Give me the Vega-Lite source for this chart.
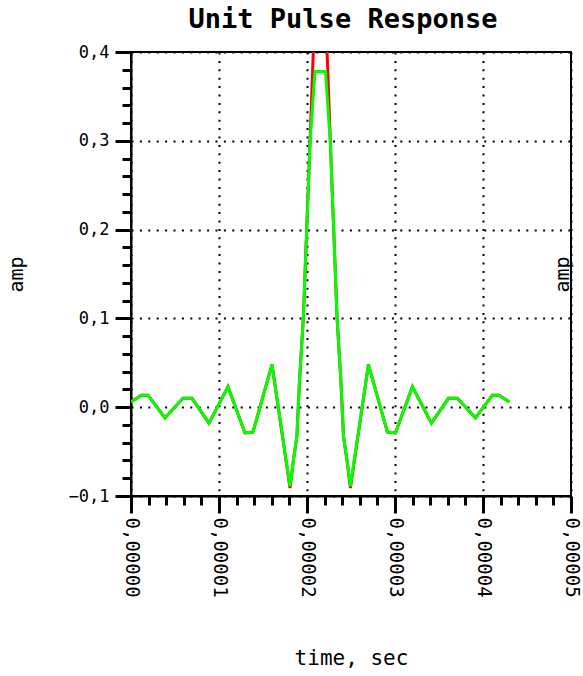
{
  "$schema": "https://vega.github.io/schema/vega-lite/v6.json",
  "autosize": {"type": "none"},
  "width": 440,
  "height": 444,
  "padding": {"left": 131, "top": 52, "right": 12, "bottom": 180},
  "background": "white",
  "config": {
    "view": {"stroke": "black", "strokeWidth": 2},
    "font": "DejaVu Sans Mono",
    "axis": {"labelFont": "DejaVu Sans Mono", "titleFont": "DejaVu Sans Mono", "labelColor": "black", "titleColor": "black", "domainColor": "black", "tickColor": "black", "titleFontWeight": "normal"}
  },
  "title": {"text": "Unit Pulse Response", "font": "DejaVu Sans Mono", "fontSize": 27, "fontWeight": "bold", "color": "black", "offset": 9, "dx": -8},
  "datasets": {
    "pulse": [
      {"t": 0, "amp": 0.006, "series": "red"},
      {"t": 0.00000119, "amp": 0.0135, "series": "red"},
      {"t": 0.00000193, "amp": 0.0135, "series": "red"},
      {"t": 0.00000386, "amp": -0.012, "series": "red"},
      {"t": 0.00000591, "amp": 0.010, "series": "red"},
      {"t": 0.00000693, "amp": 0.010, "series": "red"},
      {"t": 0.00000886, "amp": -0.018, "series": "red"},
      {"t": 0.00001102, "amp": 0.023, "series": "red"},
      {"t": 0.00001295, "amp": -0.029, "series": "red"},
      {"t": 0.00001386, "amp": -0.028, "series": "red"},
      {"t": 0.00001602, "amp": 0.048, "series": "red"},
      {"t": 0.00001807, "amp": -0.091, "series": "red"},
      {"t": 0.00001845, "amp": -0.06, "series": "red"},
      {"t": 0.00001885, "amp": -0.033, "series": "red"},
      {"t": 0.00001915, "amp": 0.03, "series": "red"},
      {"t": 0.00001958, "amp": 0.10, "series": "red"},
      {"t": 0.00002034, "amp": 0.297, "series": "red"},
      {"t": 0.0000209, "amp": 0.45, "series": "red"},
      {"t": 0.0000221, "amp": 0.45, "series": "red"},
      {"t": 0.00002266, "amp": 0.297, "series": "red"},
      {"t": 0.00002342, "amp": 0.10, "series": "red"},
      {"t": 0.00002385, "amp": 0.03, "series": "red"},
      {"t": 0.00002415, "amp": -0.033, "series": "red"},
      {"t": 0.00002455, "amp": -0.06, "series": "red"},
      {"t": 0.00002493, "amp": -0.091, "series": "red"},
      {"t": 0.00002698, "amp": 0.048, "series": "red"},
      {"t": 0.00002914, "amp": -0.028, "series": "red"},
      {"t": 0.00003005, "amp": -0.029, "series": "red"},
      {"t": 0.00003198, "amp": 0.023, "series": "red"},
      {"t": 0.00003414, "amp": -0.018, "series": "red"},
      {"t": 0.00003607, "amp": 0.010, "series": "red"},
      {"t": 0.00003709, "amp": 0.010, "series": "red"},
      {"t": 0.00003914, "amp": -0.012, "series": "red"},
      {"t": 0.00004107, "amp": 0.0135, "series": "red"},
      {"t": 0.00004181, "amp": 0.0135, "series": "red"},
      {"t": 0.000043, "amp": 0.006, "series": "red"},
      {"t": 0, "amp": 0.006, "series": "green"},
      {"t": 0.00000119, "amp": 0.0135, "series": "green"},
      {"t": 0.00000193, "amp": 0.0135, "series": "green"},
      {"t": 0.00000386, "amp": -0.012, "series": "green"},
      {"t": 0.00000591, "amp": 0.010, "series": "green"},
      {"t": 0.00000693, "amp": 0.010, "series": "green"},
      {"t": 0.00000886, "amp": -0.018, "series": "green"},
      {"t": 0.00001102, "amp": 0.023, "series": "green"},
      {"t": 0.00001295, "amp": -0.029, "series": "green"},
      {"t": 0.00001386, "amp": -0.028, "series": "green"},
      {"t": 0.00001602, "amp": 0.048, "series": "green"},
      {"t": 0.00001807, "amp": -0.089, "series": "green"},
      {"t": 0.00001845, "amp": -0.06, "series": "green"},
      {"t": 0.00001885, "amp": -0.033, "series": "green"},
      {"t": 0.00001915, "amp": 0.03, "series": "green"},
      {"t": 0.00001958, "amp": 0.10, "series": "green"},
      {"t": 0.00002034, "amp": 0.297, "series": "green"},
      {"t": 0.0000209, "amp": 0.378, "series": "green"},
      {"t": 0.0000221, "amp": 0.378, "series": "green"},
      {"t": 0.00002266, "amp": 0.297, "series": "green"},
      {"t": 0.00002342, "amp": 0.10, "series": "green"},
      {"t": 0.00002385, "amp": 0.03, "series": "green"},
      {"t": 0.00002415, "amp": -0.033, "series": "green"},
      {"t": 0.00002455, "amp": -0.06, "series": "green"},
      {"t": 0.00002493, "amp": -0.089, "series": "green"},
      {"t": 0.00002698, "amp": 0.048, "series": "green"},
      {"t": 0.00002914, "amp": -0.028, "series": "green"},
      {"t": 0.00003005, "amp": -0.029, "series": "green"},
      {"t": 0.00003198, "amp": 0.023, "series": "green"},
      {"t": 0.00003414, "amp": -0.018, "series": "green"},
      {"t": 0.00003607, "amp": 0.010, "series": "green"},
      {"t": 0.00003709, "amp": 0.010, "series": "green"},
      {"t": 0.00003914, "amp": -0.012, "series": "green"},
      {"t": 0.00004107, "amp": 0.0135, "series": "green"},
      {"t": 0.00004181, "amp": 0.0135, "series": "green"},
      {"t": 0.000043, "amp": 0.006, "series": "green"}
    ]
  },
  "data": {"name": "pulse"},
  "resolve": {"axis": {"x": "independent", "y": "independent"}},
  "layer": [
    {
      "transform": [{"filter": "datum.series === 'red'"}],
      "mark": {"type": "line", "color": "#ff0000", "strokeWidth": 3, "clip": true},
      "encoding": {
        "x": {"field": "t", "type": "quantitative", "scale": {"domain": [0, 0.00005], "nice": false},
          "axis": {"orient": "bottom", "values": [0, 0.00001, 0.00002, 0.00003, 0.00004, 0.00005],
            "labelExpr": "replace(format(datum.value, '.5f'), '.', ',')",
            "labelAngle": 90, "labelAlign": "left", "labelBaseline": "middle", "labelFontSize": 19, "labelPadding": 4,
            "tickSize": 17, "tickWidth": 3, "domainWidth": 2,
            "grid": true, "gridColor": "black", "gridDash": [2, 6.4], "gridWidth": 2, "gridOpacity": 1,
            "title": "time, sec", "titleFontSize": 21, "titlePadding": 50, "titleBaseline": "top"}},
        "y": {"field": "amp", "type": "quantitative", "scale": {"domain": [-0.1, 0.4], "nice": false, "zero": false},
          "axis": {"orient": "left", "values": [-0.1, 0, 0.1, 0.2, 0.3, 0.4],
            "labelExpr": "replace(format(datum.value, '.1f'), '.', ',')",
            "labelFontSize": 17, "labelPadding": 6, "labelBaseline": "middle",
            "tickSize": 16, "tickWidth": 3, "domainWidth": 2,
            "grid": true, "gridColor": "black", "gridDash": [2, 6.4], "gridWidth": 2, "gridOpacity": 1,
            "title": "amp", "titleFontSize": 20, "titlePadding": 42}}
      }
    },
    {
      "transform": [{"filter": "datum.series === 'green'"}],
      "mark": {"type": "line", "color": "#00ff00", "strokeWidth": 3, "clip": true},
      "encoding": {
        "x": {"field": "t", "type": "quantitative", "scale": {"domain": [0, 0.00005], "nice": false},
          "axis": {"orient": "bottom", "values": [0.000002, 0.000004, 0.000006, 0.000008, 0.000012, 0.000014, 0.000016, 0.000018, 0.000022, 0.000024, 0.000026, 0.000028, 0.000032, 0.000034, 0.000036, 0.000038, 0.000042, 0.000044, 0.000046, 0.000048],
            "labels": false, "domain": false, "grid": false, "tickSize": 9, "tickWidth": 3, "title": null}},
        "y": {"field": "amp", "type": "quantitative", "scale": {"domain": [-0.1, 0.4], "nice": false, "zero": false},
          "axis": {"orient": "left", "values": [-0.08, -0.06, -0.04, -0.02, 0.02, 0.04, 0.06, 0.08, 0.12, 0.14, 0.16, 0.18, 0.22, 0.24, 0.26, 0.28, 0.32, 0.34, 0.36, 0.38],
            "labels": false, "domain": false, "grid": false, "tickSize": 9, "tickWidth": 3, "title": null}}
      }
    },
    {
      "transform": [{"filter": "datum.series === 'green'"}],
      "mark": {"type": "line", "color": "#00ff00", "strokeWidth": 3, "clip": true, "opacity": 0},
      "encoding": {
        "x": {"field": "t", "type": "quantitative", "scale": {"domain": [0, 0.00005], "nice": false}, "axis": null},
        "y": {"field": "amp", "type": "quantitative", "scale": {"domain": [-0.1, 0.4], "nice": false, "zero": false},
          "axis": {"orient": "right", "labels": false, "ticks": false, "domain": false, "grid": false,
            "title": "amp", "titleFontSize": 20, "titleAngle": -90, "titleBaseline": "middle", "titlePadding": -9}}
      }
    }
  ]
}
